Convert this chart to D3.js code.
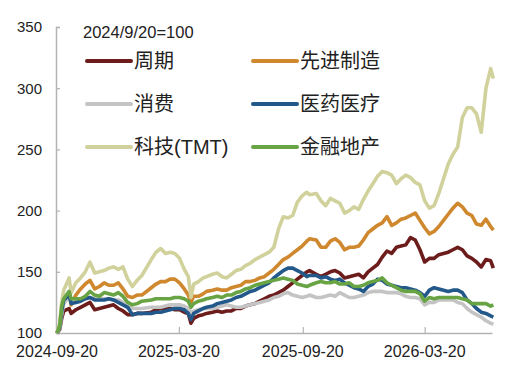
<!DOCTYPE html>
<html>
<head>
<meta charset="utf-8">
<script src="https://cdn.jsdelivr.net/npm/d3@7"></script>
<style>
    body { margin: 0; background: #fff; }
    text { font-family: "Liberation Sans", Arial, "Noto Sans CJK SC", sans-serif; fill: #222; }
</style>
</head>
<body>
<div id="chart"></div>
<script>
// dates (weekly closes, a few extra days around sharp moves)
var dates = [
    "2024-09-20", "2024-09-24", "2024-09-27", "2024-09-30", "2024-10-08", "2024-10-11", "2024-10-18", "2024-10-25",
    "2024-11-01", "2024-11-08", "2024-11-15", "2024-11-22", "2024-11-29", "2024-12-06", "2024-12-13", "2024-12-20",
    "2024-12-27", "2025-01-03", "2025-01-10", "2025-01-17", "2025-01-24", "2025-02-07", "2025-02-14", "2025-02-21",
    "2025-02-28", "2025-03-07", "2025-03-14", "2025-03-21", "2025-03-28", "2025-04-03", "2025-04-07", "2025-04-11",
    "2025-04-18", "2025-04-25", "2025-04-30", "2025-05-09", "2025-05-16", "2025-05-23", "2025-05-30", "2025-06-06",
    "2025-06-13", "2025-06-20", "2025-06-27", "2025-07-04", "2025-07-11", "2025-07-18", "2025-07-25", "2025-08-01",
    "2025-08-08", "2025-08-15", "2025-08-22", "2025-08-29", "2025-09-05", "2025-09-12", "2025-09-19", "2025-09-26",
    "2025-09-30", "2025-10-10", "2025-10-17", "2025-10-24", "2025-10-31", "2025-11-07", "2025-11-14", "2025-11-21",
    "2025-11-28", "2025-12-05", "2025-12-12", "2025-12-19", "2025-12-26", "2026-01-02", "2026-01-09", "2026-01-16",
    "2026-01-23", "2026-01-30", "2026-02-06", "2026-02-13", "2026-02-20", "2026-02-27", "2026-03-06", "2026-03-13",
    "2026-03-20", "2026-03-27", "2026-04-03", "2026-04-10", "2026-04-17", "2026-04-24", "2026-05-01", "2026-05-08",
    "2026-05-15", "2026-05-22", "2026-05-29", "2026-06-05", "2026-06-12", "2026-06-19", "2026-06-26", "2026-06-30"
];

var cycle = [
    100, 103, 112, 118, 120, 116, 119, 121, 123, 125, 119, 120, 121, 122, 123, 120,
    118, 115, 115, 116, 116, 117, 119, 120, 120, 120, 119, 119, 117, 116, 108, 112,
    114, 115, 116, 117, 118, 117, 118, 118, 120, 120, 122, 123, 124, 126, 128, 130,
    131, 133, 135, 138, 141, 144, 147, 150, 151, 148, 146, 148, 150, 151, 149, 145,
    146, 147, 148, 145, 150, 153, 156, 162, 167, 165, 170, 171, 172, 178, 176, 168,
    158, 161, 161, 164, 165, 166, 168, 170, 168, 163, 161, 158, 154, 160, 159, 153
];
var manufacturing = [
    100, 105, 118, 126, 133, 123, 131, 136, 140, 143, 136, 138, 141, 139, 139, 141,
    136, 130, 129, 131, 131, 137, 140, 142, 142, 144, 144, 141, 136, 131, 125, 130,
    130, 132, 134, 135, 136, 135, 135, 137, 138, 139, 142, 142, 143, 145, 146, 149,
    152, 156, 160, 162, 165, 168, 171, 175, 177, 176, 170, 170, 175, 177, 174, 168,
    170, 170, 171, 176, 182, 185, 188, 190, 195, 188, 190, 193, 194, 196, 198, 192,
    186, 181, 183, 187, 192, 197, 202, 206, 203, 198, 196, 189, 188, 193, 187, 184
];
var consumer = [
    100, 104, 115, 124, 130, 125, 126, 127, 128, 129, 128, 128, 128, 128, 127, 127,
    125, 122, 120, 120, 120, 121, 121, 121, 122, 123, 123, 123, 122, 120, 116, 118,
    119, 120, 120, 120, 121, 122, 123, 122, 121, 121, 122, 123, 124, 125, 126, 127,
    129, 130, 132, 133, 131, 130, 129, 130, 131, 129, 129, 130, 131, 130, 133, 131,
    129, 129, 130, 131, 133, 134, 134, 134, 133, 133, 133, 132, 130, 129, 129, 128,
    123, 125, 125, 127, 127, 127, 127, 125, 124, 120, 117, 115, 113, 110, 108, 107
];
var health = [
    100, 105, 118, 127, 131, 124, 125, 126, 128, 129, 127, 127, 127, 128, 127, 125,
    123, 121, 115, 116, 116, 116, 117, 117, 118, 119, 120, 120, 119, 116, 111, 116,
    118, 120, 121, 122, 124, 125, 126, 127, 129, 130, 132, 134, 135, 137, 139, 141,
    145, 148, 151, 153, 153, 151, 149, 146, 147, 147, 145, 146, 144, 143, 144, 141,
    139, 137, 136, 134, 138, 140, 144, 143, 140, 139, 138, 137, 137, 136, 135, 133,
    130, 135, 137, 136, 135, 134, 135, 135, 133, 127, 124, 120, 117, 116, 114, 113
];
var tmt = [
    100, 108, 125, 135, 145, 133, 141, 145, 150, 158, 149, 150, 151, 153, 154, 152,
    154, 144, 138, 143, 147, 160, 166, 169, 165, 166, 165, 161, 152, 146, 129, 140,
    142, 145, 146, 148, 149, 146, 145, 148, 151, 152, 155, 157, 160, 162, 164, 166,
    170, 185, 195, 194, 196, 207, 212, 215, 213, 214, 208, 204, 210, 208, 206, 198,
    200, 203, 201, 209, 216, 222, 228, 232, 231, 229, 222, 226, 229, 227, 223, 221,
    208, 202, 204, 214, 226, 238, 246, 252, 276, 284, 284, 279, 264, 300, 316, 308
];
var finance = [
    100, 106, 122, 128, 134, 128, 128, 128, 130, 134, 131, 130, 133, 132, 131, 133,
    130, 125, 123, 124, 126, 127, 128, 128, 128, 128, 129, 129, 128, 126, 121, 124,
    126, 127, 128, 129, 130, 129, 131, 131, 133, 134, 136, 137, 139, 140, 141, 142,
    143, 144, 145, 144, 143, 140, 139, 138, 139, 141, 142, 141, 141, 142, 140, 140,
    141, 138, 138, 139, 141, 142, 143, 145, 141, 139, 137, 135, 134, 134, 134, 132,
    126, 129, 128, 129, 129, 129, 129, 129, 128, 127, 124, 124, 124, 124, 122, 123
];

var seriesNames = ["周期", "先进制造", "消费", "医药医疗", "科技(TMT)", "金融地产"];
var seriesValues = [cycle, manufacturing, consumer, health, tmt, finance];
var seriesColors = ["#6d1c1c", "#d0882e", "#c4c4c4", "#22588a", "#d1d19c", "#68a443"];

var yTicks = [100, 150, 200, 250, 300, 350];
var xTicks = ["2024-09-20", "2025-03-20", "2025-09-20", "2026-03-20"];
var baseNote = "2024/9/20=100";

(function () {
    "use strict";

    var width = 514, height = 368;
    var parse = d3.timeParse("%Y-%m-%d");

    var svg = d3.select("#chart")
        .append("svg")
        .attr("width", width)
        .attr("height", height);

    var x = d3.scaleTime()
        .domain([parse("2024-09-20"), parse("2026-06-28")])
        .range([57, 492]);

    var y = d3.scaleLinear()
        .domain([100, 350])
        .range([333, 27]);

    // y axis
    var yAxis = svg.append("g")
        .attr("transform", "translate(56,0)")
        .call(d3.axisRight(y).tickValues(yTicks).tickSize(4).tickFormat(""));
    yAxis.select(".domain").attr("stroke", "#b3b3b3").attr("stroke-width", 1.5);
    yAxis.selectAll(".tick line").attr("stroke", "#b3b3b3").attr("stroke-width", 1.2);

    svg.append("g")
        .selectAll("text")
        .data(yTicks)
        .enter()
        .append("text")
        .attr("x", 42)
        .attr("y", function (d) { return y(d); })
        .attr("dy", "0.36em")
        .attr("text-anchor", "end")
        .style("font-size", "15px")
        .text(function (d) { return d; });

    // x axis
    var xAxis = svg.append("g")
        .attr("transform", "translate(0,333)")
        .call(d3.axisTop(x).tickValues(xTicks.map(parse)).tickSize(6).tickSizeOuter(0).tickFormat(""));
    xAxis.select(".domain").attr("stroke", "#b3b3b3").attr("stroke-width", 1.5);
    xAxis.selectAll(".tick line").attr("stroke", "#b3b3b3").attr("stroke-width", 1.2);

    svg.append("g")
        .selectAll("text")
        .data(xTicks)
        .enter()
        .append("text")
        .attr("x", function (d) { return x(parse(d)); })
        .attr("y", 357)
        .attr("text-anchor", "middle")
        .style("font-size", "16px")
        .text(function (d) { return d; });

    // lines
    var line = d3.line()
        .x(function (d) { return x(d.date); })
        .y(function (d) { return y(d.value); });

    var dataReady = seriesNames.map(function (name, i) {
        return {
            name: name,
            color: seriesColors[i],
            values: dates.map(function (d, j) {
                return { date: parse(d), value: seriesValues[i][j] };
            })
        };
    });

    svg.append("g")
        .selectAll("path")
        .data(dataReady)
        .enter()
        .append("path")
        .attr("d", function (d) { return line(d.values); })
        .attr("fill", "none")
        .attr("stroke", function (d) { return d.color; })
        .attr("stroke-width", 3.6)
        .attr("stroke-linejoin", "round");

    // legend
    svg.append("text")
        .attr("x", 83)
        .attr("y", 32)
        .attr("dy", "0.36em")
        .style("font-size", "16.5px")
        .text(baseNote);

    var legend = svg.append("g")
        .selectAll("g")
        .data(dataReady)
        .enter()
        .append("g")
        .attr("transform", function (d, i) {
            return "translate(" + (i % 2 === 0 ? 87 : 253) + "," + (61 + Math.floor(i / 2) * 43) + ")";
        });

    legend.append("line")
        .attr("x1", 0)
        .attr("x2", 44)
        .attr("stroke", function (d) { return d.color; })
        .attr("stroke-width", 4)
        .attr("stroke-linecap", "round");

    legend.append("text")
        .attr("x", 47)
        .attr("dy", "0.36em")
        .style("font-size", "20px")
        .text(function (d) { return d.name; });
})();
</script>
</body>
</html>
